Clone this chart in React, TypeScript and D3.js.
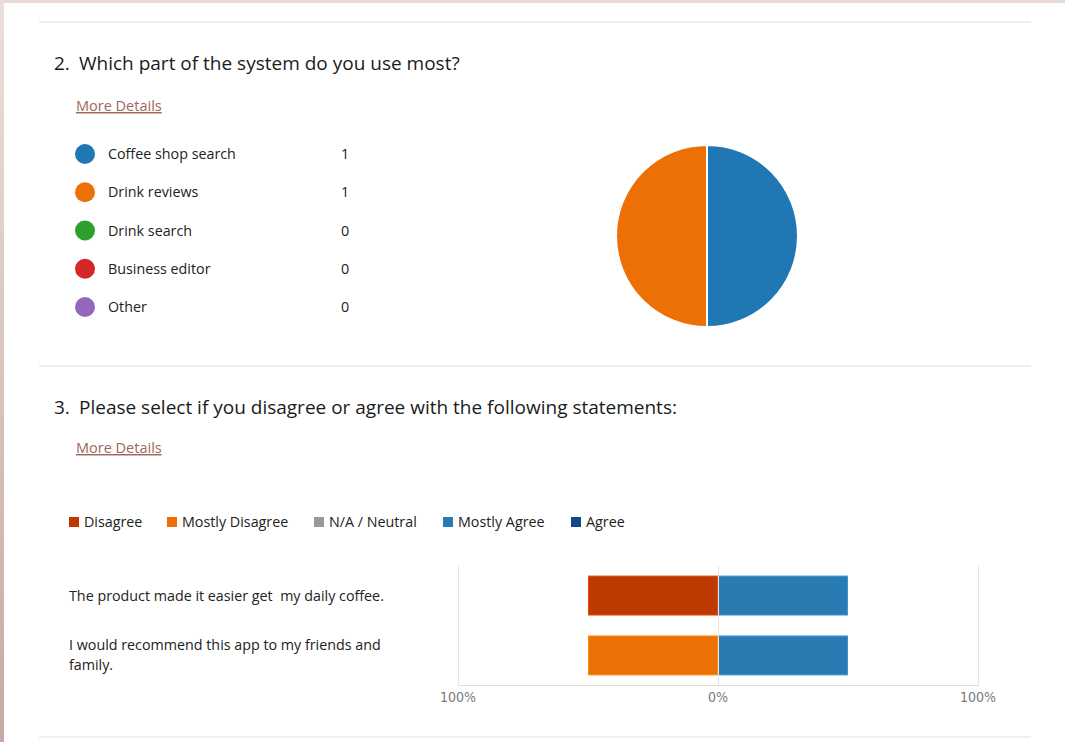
import React, { useEffect, useRef } from "react";
import * as d3 from "d3";

// Question 2 – pie
const pieCategories = ["Coffee shop search", "Drink reviews", "Drink search", "Business editor", "Other"];
const pieCounts = [1, 1, 0, 0, 0];
const pieColors = ["#1f77b4", "#ec7006", "#2ca02c", "#d62728", "#9467bd"];

// Question 3 – likert
const likertLevels = ["Disagree", "Mostly Disagree", "N/A / Neutral", "Mostly Agree", "Agree"];
const likertColors = ["#bc3a02", "#ec7006", "#999999", "#2b7bb3", "#114a85"];
const statements = [
  "The product made it easier get  my daily coffee.",
  "I would recommend this app to my friends and family.",
];
const disagreeCounts = [1, 0];
const mostlyDisagreeCounts = [0, 1];
const neutralCounts = [0, 0];
const mostlyAgreeCounts = [1, 1];
const agreeCounts = [0, 0];
const xTicks = [-100, 0, 100];
const xTickLabels = ["100%", "0%", "100%"];

const FONT = "'Segoe UI', 'Open Sans', sans-serif";

const App = () => {
  const ref = useRef<SVGSVGElement>(null);

  useEffect(() => {
    const svg = d3.select(ref.current);
    svg.selectAll("*").remove();
    const W = 1065, H = 742;

    svg.append("rect").attr("width", W).attr("height", H).attr("fill", "#fff");

    // frame
    const grad = svg.append("defs").append("linearGradient")
      .attr("id", "lb").attr("x1", 0).attr("y1", 0).attr("x2", 0).attr("y2", 1);
    grad.append("stop").attr("offset", "0%").attr("stop-color", "#ebdfdb");
    grad.append("stop").attr("offset", "100%").attr("stop-color", "#c8a9a2");
    svg.append("rect").attr("x", 0).attr("y", 0).attr("width", W).attr("height", 3).attr("fill", "#e9dad5");
    svg.append("rect").attr("x", 0).attr("y", 0).attr("width", 4).attr("height", H).attr("fill", "url(#lb)");

    // separators
    [22, 366, 737].forEach(y => {
      svg.append("line").attr("x1", 39).attr("x2", 1031).attr("y1", y).attr("y2", y)
        .attr("stroke", "#efefef").attr("stroke-width", 2);
    });

    const title = (y: number, num: string, text: string) => {
      svg.append("text").attr("x", 54).attr("y", y).attr("font-family", FONT).attr("font-size", 19)
        .attr("fill", "#1b1b1b").text(num);
      svg.append("text").attr("x", 79).attr("y", y).attr("font-family", FONT).attr("font-size", 19)
        .attr("fill", "#1b1b1b").text(text);
    };
    const moreDetails = (y: number) => {
      svg.append("text").attr("x", 76).attr("y", y).attr("font-family", FONT).attr("font-size", 14.5)
        .attr("fill", "#a0665c").attr("text-decoration", "underline").text("More Details");
    };

    // ---- Question 2 ----
    title(70, "2.", "Which part of the system do you use most?");
    moreDetails(111);

    const yLegend = d3.scalePoint<string>().domain(pieCategories).range([154, 307]);
    const legend = svg.append("g").selectAll("g").data(pieCategories).enter().append("g")
      .attr("transform", d => `translate(0,${yLegend(d)})`);
    legend.append("circle").attr("cx", 85).attr("cy", 0).attr("r", 10)
      .attr("fill", (d, i) => pieColors[i]);
    legend.append("text").attr("x", 108).attr("dy", "0.35em").attr("font-family", FONT)
      .attr("font-size", 14.3).attr("fill", "#222").text(d => d);
    legend.append("text").attr("x", 345).attr("dy", "0.35em").attr("text-anchor", "middle")
      .attr("font-family", FONT).attr("font-size", 14.3).attr("fill", "#222")
      .text((d, i) => pieCounts[i]);

    const pie = d3.pie<number>().sort(null).value(d => d);
    const arc = d3.arc<d3.PieArcDatum<number>>().innerRadius(0).outerRadius(91);
    svg.append("g").attr("transform", "translate(707,236)")
      .selectAll("path").data(pie(pieCounts).filter(d => d.value > 0)).enter().append("path")
      .attr("d", arc)
      .attr("fill", d => pieColors[d.index])
      .attr("stroke", "#fff").attr("stroke-width", 2);

    // ---- Question 3 ----
    title(414, "3.", "Please select if you disagree or agree with the following statements:");
    moreDetails(453);

    const legendX = [69, 167, 314, 443, 571];
    const lg = svg.append("g").selectAll("g").data(likertLevels).enter().append("g")
      .attr("transform", (d, i) => `translate(${legendX[i]},522)`);
    lg.append("rect").attr("x", 0).attr("y", -5).attr("width", 10).attr("height", 10)
      .attr("fill", (d, i) => likertColors[i]);
    lg.append("text").attr("x", 15).attr("dy", "0.35em").attr("font-family", FONT)
      .attr("font-size", 14.3).attr("fill", "#222").text(d => d);

    const x = d3.scaleLinear().domain([-100, 100]).range([458, 978]);
    const y = d3.scaleBand<string>().domain(statements).range([566, 685])
      .paddingInner(1 / 3).paddingOuter(0.16);

    // diverging stacks
    const rows = statements.map((s, i) => {
      const counts = [disagreeCounts[i], mostlyDisagreeCounts[i], neutralCounts[i], mostlyAgreeCounts[i], agreeCounts[i]];
      const total = d3.sum(counts);
      const pct = counts.map(c => (c / total) * 100);
      const segs: { level: number; x0: number; x1: number }[] = [];
      let left = -pct[2] / 2;
      segs.push({ level: 2, x0: left, x1: pct[2] / 2 });
      [1, 0].forEach(l => { segs.push({ level: l, x0: left - pct[l], x1: left }); left -= pct[l]; });
      let right = pct[2] / 2;
      [3, 4].forEach(l => { segs.push({ level: l, x0: right, x1: right + pct[l] }); right += pct[l]; });
      return { s, segs: segs.filter(d => d.x1 > d.x0) };
    });

    const bars = svg.append("g");
    rows.forEach(r => {
      bars.selectAll(null).data(r.segs).enter().append("rect")
        .attr("x", d => x(d.x0) + 0.5)
        .attr("width", d => x(d.x1) - x(d.x0) - 1)
        .attr("y", (y(r.s) as number) + 0.5)
        .attr("height", y.bandwidth() - 1)
        .attr("fill", d => likertColors[d.level])
        .attr("stroke", d => d3.color(likertColors[d.level])!.brighter(0.6).formatHex())
        .attr("stroke-width", 1);
    });

    // grid (drawn over bars, thin and light)
    const grid = svg.append("g");
    xTicks.forEach(t => {
      grid.append("line").attr("x1", x(t) + 0.5).attr("x2", x(t) + 0.5).attr("y1", 566).attr("y2", 685)
        .attr("stroke", "#e4e4e4");
    });
    grid.append("line").attr("x1", x(-100)).attr("x2", x(100) + 1).attr("y1", 685.5).attr("y2", 685.5)
      .attr("stroke", "#dcdcdc");

    // tick labels
    svg.append("g").selectAll("text").data(xTicks).enter().append("text")
      .attr("x", d => x(d)).attr("y", 702).attr("text-anchor", "middle")
      .attr("font-family", "'Liberation Sans Narrow', 'DejaVu Sans Condensed', sans-serif")
      .attr("font-size", 14).attr("fill", "#7a7a7a")
      .text((d, i) => xTickLabels[i]);

    // statement labels with wrapping
    const maxW = 338;
    statements.forEach(s => {
      const t = svg.append("text").attr("x", 69).attr("font-family", FONT)
        .attr("font-size", 14.3).attr("fill", "#222");
      const words = s.split(" ");
      const lines: string[] = [];
      let line = "";
      words.forEach(w => {
        const test = line === "" ? w : line + " " + w;
        t.text(test);
        if ((t.node() as SVGTextElement).getComputedTextLength() > maxW && line !== "") {
          lines.push(line);
          line = w;
        } else line = test;
      });
      lines.push(line);
      t.text(null).attr("xml:space", "preserve");
      const cy = (y(s) as number) + y.bandwidth() / 2;
      const lh = 20;
      lines.forEach((l, i) => {
        t.append("tspan").attr("x", 69)
          .attr("y", cy - ((lines.length - 1) * lh) / 2 + i * lh)
          .attr("dy", "0.35em").text(l);
      });
    });
  }, []);

  return (
    <div style={{ position: "absolute", left: 0, top: 0 }}>
      <svg ref={ref} width={1065} height={742} style={{ display: "block" }}></svg>
    </div>
  );
};

export default App;
